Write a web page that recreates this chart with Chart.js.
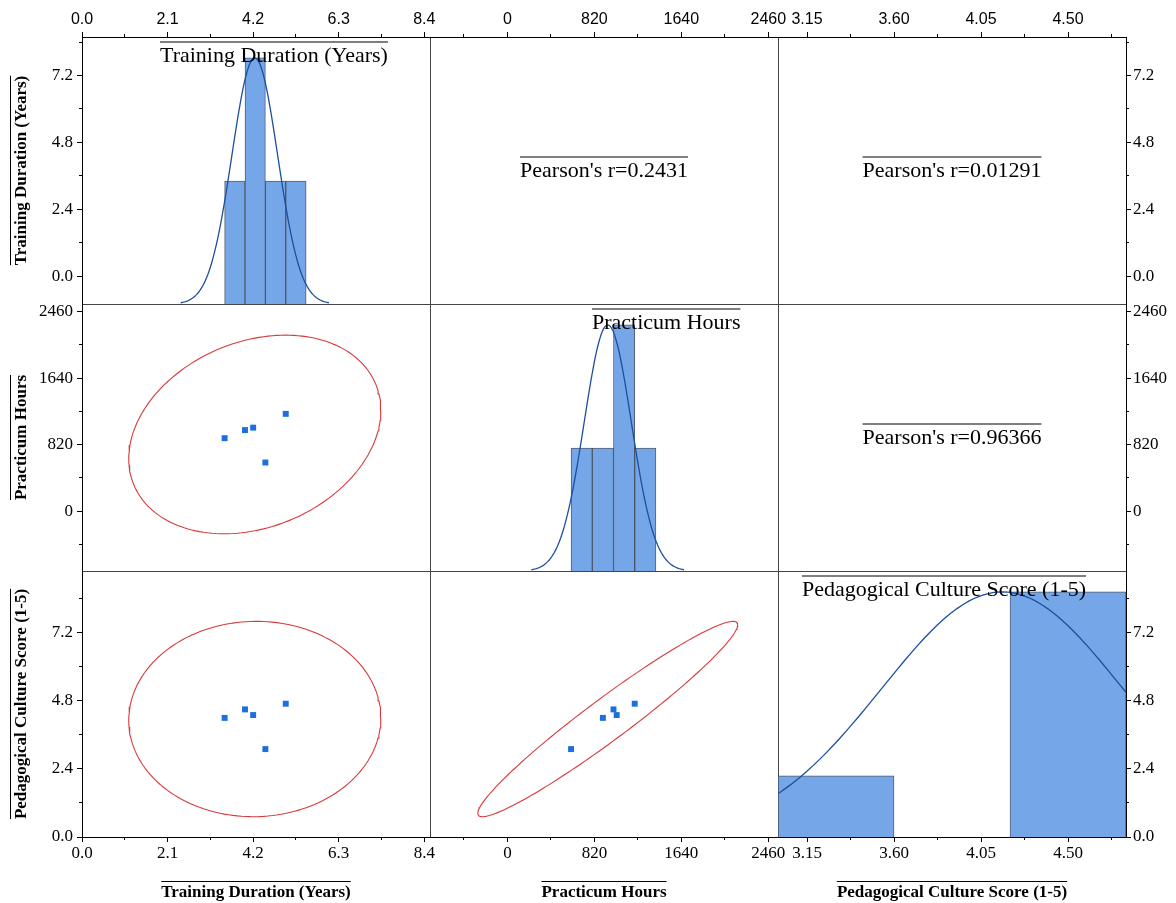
<!DOCTYPE html>
<html>
<head>
<meta charset="utf-8">
<title>Scatter matrix</title>
<script src="https://cdn.jsdelivr.net/npm/chart.js@4.4.1/dist/chart.umd.min.js"></script>
<style>
  body { margin: 0; background: #fff; }
  #wrap { position: relative; width: 1176px; height: 903px; }
  #wrap canvas { position: absolute; left: 0; top: 0; }
</style>
</head>
<body>
<div id="wrap"></div>
<script>
// variables of the matrix
const varNames = ['Training Duration (Years)', 'Practicum Hours', 'Pedagogical Culture Score (1-5)'];
const trainingYears = [3.5, 4.0, 4.2, 4.5, 5.0];
const practicumHours = [900, 1000, 1030, 600, 1200];
const cultureScores = [4.2, 4.5, 4.3, 3.1, 4.7];

// histogram bin edges
const trainingBins = [3.5, 4.0, 4.5, 5.0, 5.5];
const practicumBins = [600, 800, 1000, 1200, 1400];
const cultureBins = [3.0, 3.6, 4.2, 4.8];

// upper triangle labels: (1,2), (1,3), (2,3)
const pearsonText = ["Pearson's r=0.2431", "Pearson's r=0.01291", "Pearson's r=0.96366"];

// axis ranges
const colRanges = [[0, 8.54], [-730, 2551], [3.0, 4.8]];
const rowRanges = [[-1.0, 8.58], [-738, 2555], [0, 9.38]];

// tick labels + minor ticks
const trainingTicks = [0, 2.1, 4.2, 6.3, 8.4];
const trainingMinor = [1.05, 3.15, 5.25, 7.35];
const practicumTicks = [0, 820, 1640, 2460];
const practicumMinor = [-410, 410, 1230, 2050];
const cultureTicksX = [3.15, 3.6, 4.05, 4.5];
const cultureMinorX = [3.375, 3.825, 4.275, 4.725];
const scaleTicksY = [0, 2.4, 4.8, 7.2];
const scaleMinorY = [1.2, 3.6, 6.0, 8.4];

const F95_2_3 = 9.5521; // F(0.95; 2, n-2) for n = 5

const values = [trainingYears, practicumHours, cultureScores];
const bins = [trainingBins, practicumBins, cultureBins];
const colTicks = [trainingTicks, practicumTicks, cultureTicksX];
const colMinor = [trainingMinor, practicumMinor, cultureMinorX];
const rowTicks = [scaleTicksY, practicumTicks, scaleTicksY];
const rowMinor = [scaleMinorY, practicumMinor, scaleMinorY];
const colFmt = [v => v.toFixed(1), v => String(v), v => v.toFixed(2)];
const rowFmt = [v => v.toFixed(1), v => String(v), v => v.toFixed(1)];

// layout
const W = 1176, H = 903;
const colEdges = [82, 430, 778, 1126];
const rowEdges = [37, 304, 571, 837];
const titleLeft = [160, 592, 802];
const AX = 30, AY = 50;
const SERIF = "'Liberation Serif', 'Times New Roman', serif";
const SANS = "'Liberation Sans', Arial, sans-serif";

const barFill = '#74a6e8';
const barEdge = 'rgba(55,65,85,0.85)';
const curveColor = '#1c4f9e';
const ellipseColor = '#d8393b';
const pointColor = '#1c6fdd';

function stats(v) {
  const n = v.length;
  const m = v.reduce((a, b) => a + b, 0) / n;
  const sd = Math.sqrt(v.reduce((a, b) => a + (b - m) ** 2, 0) / (n - 1));
  return { n, m, sd };
}

function corr(a, b) {
  const sa = stats(a), sb = stats(b);
  let s = 0;
  for (let i = 0; i < a.length; i++) s += (a[i] - sa.m) * (b[i] - sb.m);
  return s / ((a.length - 1) * sa.sd * sb.sd);
}

function histogram(v, edges) {
  const out = [];
  for (let i = 0; i < edges.length - 1; i++) {
    const cnt = v.filter(x => x >= edges[i] && x < edges[i + 1]).length;
    out.push({ x: (edges[i] + edges[i + 1]) / 2, y: cnt });
  }
  return out;
}

// fitted normal curve, peak scaled to tallest bar
function normalCurve(v, peak) {
  const s = stats(v);
  const pts = [];
  for (let i = 0; i <= 120; i++) {
    const z = -3.25 + 6.5 * i / 120;
    pts.push({ x: s.m + z * s.sd, y: peak * Math.exp(-z * z / 2) });
  }
  return pts;
}

// 95% prediction ellipse
function ellipse(xs, ys) {
  const a = stats(xs), b = stats(ys), r = corr(xs, ys), n = xs.length;
  const k = Math.sqrt(2 * (n - 1) / (n - 2) * F95_2_3 * (1 + 1 / n));
  const pts = [];
  for (let i = 0; i <= 180; i++) {
    const t = 2 * Math.PI * i / 180;
    pts.push({
      x: a.m + k * a.sd * Math.cos(t),
      y: b.m + k * b.sd * (r * Math.cos(t) + Math.sqrt(1 - r * r) * Math.sin(t))
    });
  }
  return pts;
}

const align = p => Math.round(p - 0.5) + 0.5;

const framePlugin = {
  id: 'cellFrame',
  beforeDraw(chart) {
    const { left, top, right, bottom } = chart.chartArea;
    const ctx = chart.ctx;
    ctx.save();
    ctx.strokeStyle = '#444';
    ctx.lineWidth = 1;
    ctx.strokeRect(align(left), align(top), align(right) - align(left), align(bottom) - align(top));
    ctx.restore();
  }
};

const minorTickPlugin = {
  id: 'minorTicks',
  afterDraw(chart, args, opts) {
    const ctx = chart.ctx;
    ctx.save();
    ctx.strokeStyle = '#000';
    ctx.lineWidth = 1;
    ['x', 'y'].forEach(id => {
      const s = chart.scales[id];
      if (!s || !s.options.display) return;
      (opts[id] || []).forEach(v => {
        if (v < s.min || v > s.max) return;
        const p = align(s.getPixelForValue(v));
        ctx.beginPath();
        if (s.position === 'top') { ctx.moveTo(p, s.bottom); ctx.lineTo(p, s.bottom - 3); }
        else if (s.position === 'bottom') { ctx.moveTo(p, s.top); ctx.lineTo(p, s.top + 3); }
        else if (s.position === 'left') { ctx.moveTo(s.right, p); ctx.lineTo(s.right - 3, p); }
        else { ctx.moveTo(s.left, p); ctx.lineTo(s.left + 3, p); }
        ctx.stroke();
      });
    });
    ctx.restore();
  }
};

const textPlugin = {
  id: 'cellText',
  afterDraw(chart, args, opts) {
    const ctx = chart.ctx;
    (opts.items || []).forEach(t => {
      ctx.save();
      ctx.font = t.font;
      ctx.fillStyle = '#000';
      ctx.strokeStyle = '#000';
      ctx.lineWidth = 1;
      ctx.translate(t.x, t.y);
      if (t.rotate) ctx.rotate(-Math.PI / 2);
      const w = ctx.measureText(t.text).width;
      const x0 = t.align === 'left' ? 0 : -w / 2;
      ctx.textAlign = 'left';
      ctx.textBaseline = 'alphabetic';
      ctx.fillText(t.text, x0, 0);
      ctx.beginPath();
      ctx.moveTo(x0, -t.over + 0.5);
      ctx.lineTo(x0 + w, -t.over + 0.5);
      ctx.stroke();
      ctx.restore();
    });
  }
};

function fixBox(s) {
  const size = s.options.display ? 1 : 0;
  if (s.isHorizontal()) s.height = AX * size; else s.width = AY * size;
  s.paddingLeft = s.paddingRight = s.paddingTop = s.paddingBottom = 0;
}

function axis(range, position, shown, tickVals, fmt, font, pad) {
  return {
    type: 'linear', position, display: shown, bounds: 'data',
    min: range[0], max: range[1],
    afterBuildTicks: s => { s.ticks = tickVals.map(v => ({ value: v })); },
    afterFit: fixBox,
    ticks: { autoSkip: false, maxRotation: 0, minRotation: 0, callback: v => fmt(v), font, color: '#000', padding: pad },
    grid: { drawOnChartArea: false, drawTicks: true, tickLength: 5, color: '#000', tickColor: '#000' },
    border: { display: true, color: '#000', width: 1 }
  };
}

function hiddenAxis(range) {
  return {
    type: 'linear', display: false, bounds: 'data', min: range[0], max: range[1],
    afterBuildTicks: s => { s.ticks = []; },
    afterFit: fixBox
  };
}

const wrap = document.getElementById('wrap');

for (let r = 0; r < 3; r++) {
  for (let c = 0; c < 3; c++) {
    const cx = (colEdges[c] + colEdges[c + 1]) / 2;
    const cy = (rowEdges[r] + rowEdges[r + 1]) / 2;
    const datasets = [];
    const items = [];
    const scales = {
      x: axis(colRanges[c], r === 0 ? 'top' : 'bottom', r !== 1, colTicks[c], colFmt[c],
        r === 0 ? { family: SANS, size: 16 } : { family: SERIF, size: 17 }, r === 0 ? 3 : 1),
      y: axis(rowRanges[r], c === 2 ? 'right' : 'left', c !== 1, rowTicks[r], rowFmt[r],
        { family: SERIF, size: 17 }, c === 2 ? 2 : 4)
    };

    if (r === c) {
      const hist = histogram(values[c], bins[c]);
      const peak = Math.max(...hist.map(h => h.y));
      scales.xb = hiddenAxis(colRanges[c]);
      scales.yh = hiddenAxis([0, peak * 1.085]);
      datasets.push({
        type: 'bar', data: hist, xAxisID: 'xb', yAxisID: 'yh', order: 1,
        backgroundColor: barFill, borderColor: barEdge, borderWidth: 1,
        barPercentage: 1, categoryPercentage: 1
      });
      datasets.push({
        type: 'line', data: normalCurve(values[c], peak), xAxisID: 'xb', yAxisID: 'yh', order: 0,
        borderColor: curveColor, borderWidth: 1.3, pointRadius: 0, fill: false, tension: 0
      });
      items.push({ text: varNames[c], x: titleLeft[c], y: rowEdges[r] + 24.5, align: 'left', font: `22px ${SERIF}`, over: 20 });
    } else if (r > c) {
      const xs = values[c], ys = values[r];
      datasets.push({
        type: 'scatter', data: xs.map((v, i) => ({ x: v, y: ys[i] })), order: 0,
        pointStyle: 'rect', pointRadius: 4.2, backgroundColor: pointColor, borderWidth: 0
      });
      datasets.push({
        type: 'line', data: ellipse(xs, ys), order: 1,
        borderColor: ellipseColor, borderWidth: 1.1, pointRadius: 0, fill: false, tension: 0
      });
    } else {
      const idx = r === 0 ? c - 1 : 2;
      items.push({ text: pearsonText[idx], x: cx, y: cy + 6, font: `22px ${SERIF}`, over: 20 });
    }

    if (c === 0) items.push({ text: varNames[r], x: 26, y: cy, rotate: true, font: `bold 17px ${SERIF}`, over: 16 });
    if (r === 2) items.push({ text: varNames[c], x: cx, y: 897, font: `bold 17px ${SERIF}`, over: 16 });

    const cv = document.createElement('canvas');
    cv.width = W; cv.height = H;
    cv.style.width = W + 'px'; cv.style.height = H + 'px';
    wrap.appendChild(cv);

    new Chart(cv, {
      type: 'scatter',
      data: { datasets },
      options: {
        responsive: false,
        devicePixelRatio: 1,
        animation: false,
        events: [],
        layout: {
          padding: {
            left: colEdges[c] - (c === 0 ? AY : 0),
            right: W - colEdges[c + 1] - (c === 2 ? AY : 0),
            top: rowEdges[r] - (r === 0 ? AX : 0),
            bottom: H - rowEdges[r + 1] - (r === 2 ? AX : 0)
          }
        },
        scales,
        plugins: {
          legend: { display: false },
          tooltip: { enabled: false },
          minorTicks: { x: colMinor[c], y: rowMinor[r] },
          cellText: { items }
        }
      },
      plugins: [framePlugin, minorTickPlugin, textPlugin]
    });
  }
}
</script>
</body>
</html>
